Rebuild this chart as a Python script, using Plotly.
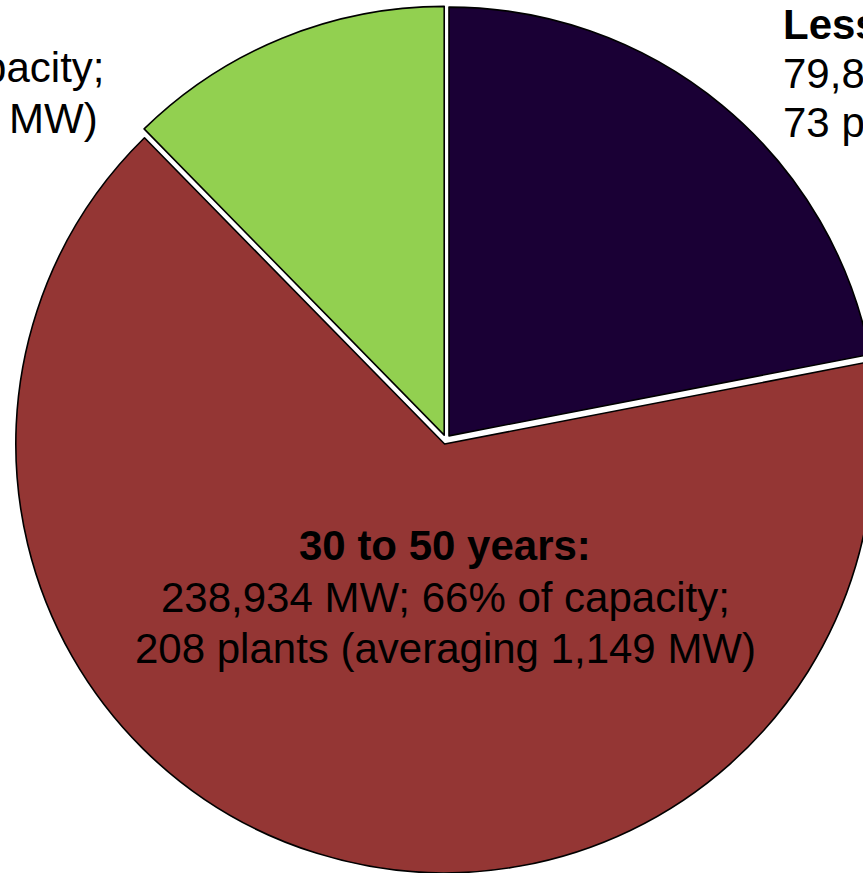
import plotly.graph_objects as go

# ---- data ----
categories = ["Less than 30 years", "30 to 50 years", "Over 50 years"]
capacity_mw = [79850, 238934, 44870]
colors = ["#1a0035", "#943634", "#92d050"]

center_lines = ["<b>30 to 50 years:</b>",
                "238,934 MW; 66% of capacity;",
                "208 plants (averaging 1,149 MW)"]
right_lines = ["<b>Less than 30 years:</b>",
               "79,850 MW; 22% of capacity;",
               "73 plants (averaging 1,094 MW)"]
left_lines = ["<b>Over 50 years:</b>",
              "44,870 MW; 12% of capacity;",
              "56 plants (averaging 801 MW)"]

W, H = 892, 873
FONT = "Liberation Sans, Arial, sans-serif"
FS = 42

fig = go.Figure(go.Pie(
    labels=categories,
    values=capacity_mw,
    sort=False,
    direction="clockwise",
    rotation=0,
    marker=dict(colors=colors, line=dict(color="black", width=1.6)),
    pull=[0.011, 0.011, 0.011],
    textinfo="none",
    hoverinfo="label+value+percent",
    domain=dict(x=[0, 1], y=[0, 867 / H]),
    showlegend=False,
))


def px(x):
    return x / W


def py(y):
    return 1 - y / H


ann = []
for txt, y in zip(center_lines, [545, 597, 648]):
    ann.append(dict(x=px(445), y=py(y), text=txt, xanchor="center", yanchor="middle"))
for txt, y in zip(right_lines, [24, 73, 123]):
    ann.append(dict(x=px(781), y=py(y), text=txt, xanchor="left", yanchor="middle"))
ann.append(dict(x=px(-165), y=py(19), text=left_lines[0], xanchor="center", yanchor="middle"))
ann.append(dict(x=px(107), y=py(68), text=left_lines[1], xanchor="right", yanchor="middle"))
ann.append(dict(x=px(100), y=py(119), text=left_lines[2], xanchor="right", yanchor="middle"))
for a in ann:
    a.update(xref="paper", yref="paper", showarrow=False,
             font=dict(family=FONT, size=FS, color="black"))

fig.update_layout(
    width=W, height=H,
    margin=dict(l=0, r=0, t=0, b=0),
    paper_bgcolor="white",
    plot_bgcolor="white",
    annotations=ann,
)

fig.write_html(
    "out.html",
    config={"displayModeBar": False},
    post_script="document.body.style.margin='0';document.body.style.overflow='hidden';",
)
